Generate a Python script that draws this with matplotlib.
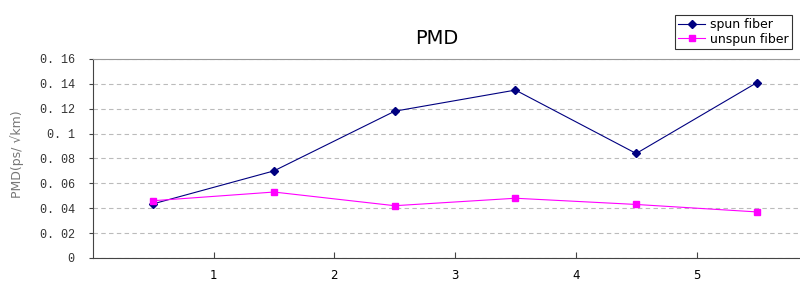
import matplotlib.pyplot as plt

# sample positions sit halfway between the labelled ticks
positions = [0.5, 1.5, 2.5, 3.5, 4.5, 5.5]
spun_fiber = [0.0435, 0.070, 0.118, 0.135, 0.084, 0.141]
unspun_fiber = [0.046, 0.053, 0.042, 0.048, 0.043, 0.037]
x_ticks = [1, 2, 3, 4, 5]
y_ticks = [0, 0.02, 0.04, 0.06, 0.08, 0.10, 0.12, 0.14, 0.16]
y_tick_labels = ["0", "0. 02", "0. 04", "0. 06", "0. 08", "0. 1", "0. 12", "0. 14", "0. 16"]


def plot_pmd():
    fig = plt.figure(figsize=(8, 2.85), dpi=100)
    ax = fig.add_axes([0.116, 0.095, 0.883, 0.698])

    ax.plot(positions, spun_fiber, color="#000080", marker="D", markersize=4,
            linewidth=0.8, label="spun fiber")
    ax.plot(positions, unspun_fiber, color="#FF00FF", marker="s", markersize=5,
            linewidth=0.8, label="unspun fiber")

    ax.set_xlim(0, 5.85)
    ax.set_ylim(0, 0.16)
    ax.set_xticks(x_ticks)
    ax.set_xticklabels([str(t) for t in x_ticks], fontsize=8.5)
    ax.set_yticks(y_ticks)
    ax.set_yticklabels(y_tick_labels, fontsize=8.5, family="Liberation Mono",
                       color="#333333")
    ax.tick_params(axis="x", direction="in", length=4, pad=8, color="#444444")
    ax.tick_params(axis="y", direction="out", length=3, pad=10, color="#444444")

    ax.grid(axis="y", linestyle=(0, (4, 3)), color="#bbbbbb", linewidth=0.8)
    ax.set_axisbelow(True)

    ax.spines["left"].set_color("#444444")
    ax.spines["bottom"].set_color("#444444")
    ax.spines["top"].set_color("#999999")
    ax.spines["right"].set_visible(False)

    ax.set_ylabel("PMD(ps/ √km)", fontsize=9, color="#777777",
                  family="Liberation Sans Narrow")
    ax.yaxis.set_label_coords(-0.097, 0.52)
    fig.text(0.546, 0.865, "PMD", fontsize=14, ha="center", va="center")

    leg = fig.legend(loc="upper right", bbox_to_anchor=(0.998, 0.97),
                     fontsize=9, frameon=True, fancybox=False,
                     handlelength=2.2, borderpad=0.25, labelspacing=0.15,
                     handletextpad=0.4)
    leg.get_frame().set_edgecolor("#000000")
    leg.get_frame().set_linewidth(0.8)

    fig.savefig("out.png", dpi=100)


if __name__ == "__main__":
    plot_pmd()
